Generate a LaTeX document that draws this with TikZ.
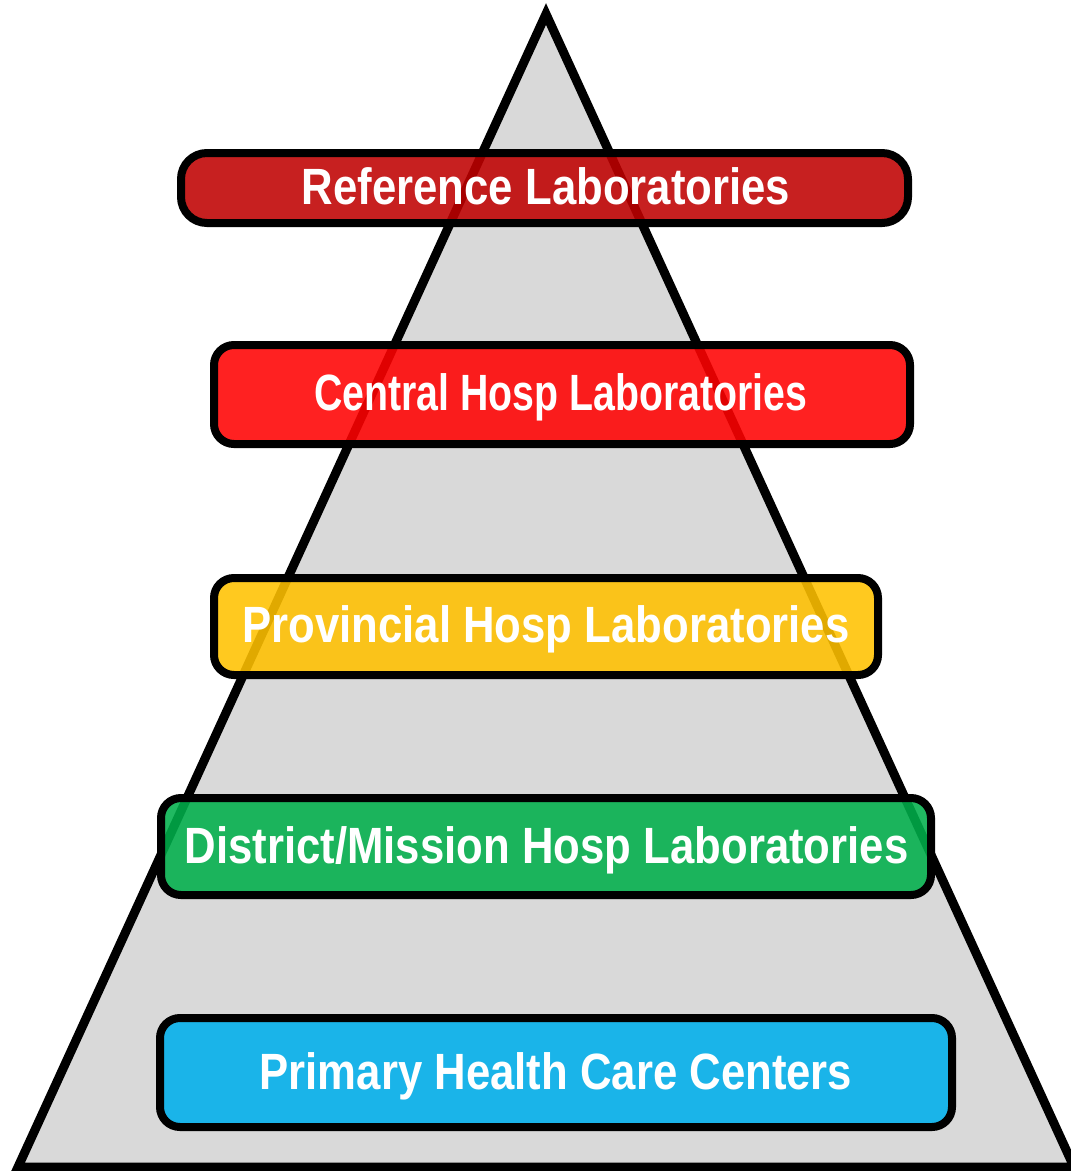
\documentclass[tikz,border=0pt]{standalone}
\usepackage{fontspec}
\setmainfont{Liberation Sans}[FakeStretch=0.857]
\newfontfamily\narrowlab{Liberation Sans}[FakeStretch=0.77]
\begin{document}
\begin{tikzpicture}[x=1pt,y=-1pt,
  tier/.style={draw=black,line width=8pt,rounded corners=20pt,fill opacity=0.88,draw opacity=1},
  lab/.style={anchor=base,text=white,font=\fontsize{51}{60}\selectfont\bfseries,inner sep=0pt}]
\definecolor{cRef}{RGB}{191,1,1}
\definecolor{cCen}{RGB}{255,2,2}
\definecolor{cPro}{RGB}{255,193,0}
\definecolor{cDis}{RGB}{1,175,75}
\definecolor{cPri}{RGB}{0,175,236}
\definecolor{pyr}{RGB}{217,217,217}
\useasboundingbox (0,0) rectangle (1071,1171);
\begin{scope}
\clip (0,0) rectangle (1071,1171);
\coordinate (apex) at (546,14);
\coordinate (bl) at (18,1167);
\coordinate (br) at (1074,1167);
\draw[line width=9pt,fill=pyr,line join=miter] (apex) -- (bl) -- (br) -- cycle;
\end{scope}
\draw[tier,fill=cRef,rounded corners=26pt] (181,153) rectangle (908,223);
\draw[tier,fill=cCen] (214,345) rectangle (910,444);
\draw[tier,fill=cPro] (214,578) rectangle (878,675);
\draw[tier,fill=cDis] (161,798) rectangle (931,895);
\draw[tier,fill=cPri] (160,1018) rectangle (952,1127);
\node[lab] (tref) at (546,204) {Reference Laboratories};
\node[lab,font=\fontsize{51}{60}\selectfont\narrowlab\bfseries] (tcen) at (561,410) {Central Hosp Laboratories};
\node[lab] (tpro) at (546,642) {Provincial Hosp Laboratories};
\node[lab] (tdis) at (546.5,863) {District/Mission Hosp Laboratories};
\node[lab] (tpri) at (556,1089) {Primary Health Care Centers};
\end{tikzpicture}
\end{document}
